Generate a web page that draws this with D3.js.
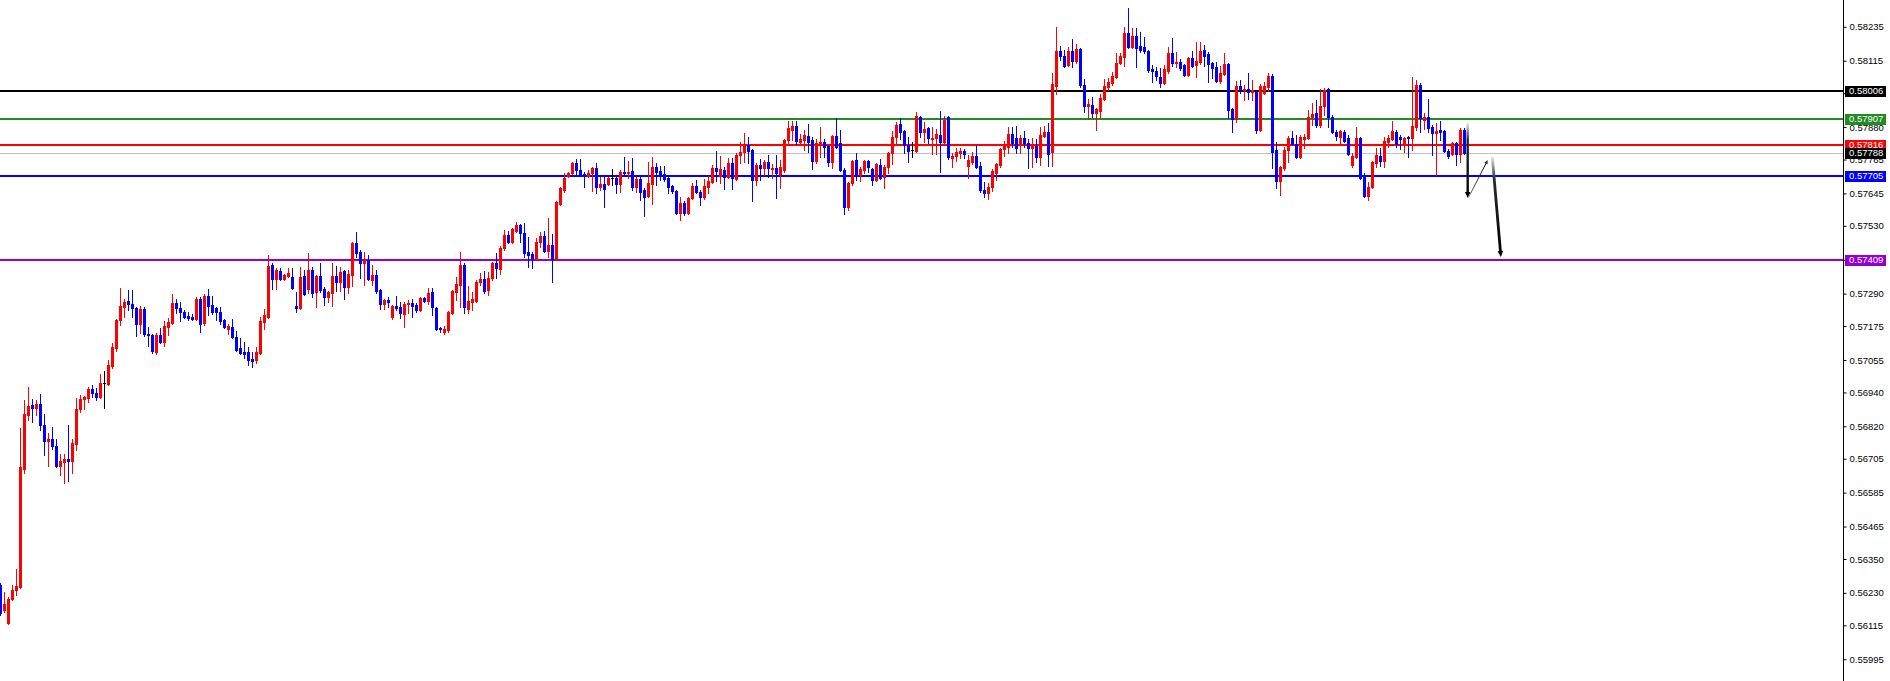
<!DOCTYPE html>
<html>
<head>
<meta charset="utf-8">
<script src="https://cdn.jsdelivr.net/npm/d3@7"></script>
<style>
  html, body { margin: 0; padding: 0; background: #fff; overflow: hidden; }
  svg { display: block; }
</style>
</head>
<body>
<svg id="chart" width="1890" height="681"></svg>
<script>
// candle values, one entry per bar
const opens = [
  0.56258, 0.56169, 0.56123, 0.56208, 0.56240, 0.56251, 0.56669, 0.56860, 0.56896, 0.56885,
  0.56899, 0.56825, 0.56768, 0.56775, 0.56750, 0.56679, 0.56694, 0.56704, 0.56697, 0.56757,
  0.56881, 0.56917, 0.56920, 0.56952, 0.56938, 0.56924, 0.56973, 0.56970, 0.57034, 0.57097,
  0.57197, 0.57242, 0.57264, 0.57253, 0.57239, 0.57182, 0.57236, 0.57147, 0.57143, 0.57083,
  0.57143, 0.57119, 0.57172, 0.57186, 0.57257, 0.57239, 0.57225, 0.57211, 0.57207, 0.57200,
  0.57271, 0.57186, 0.57282, 0.57250, 0.57239, 0.57225, 0.57197, 0.57165, 0.57172, 0.57136,
  0.57097, 0.57083, 0.57083, 0.57058, 0.57055, 0.57080, 0.57190, 0.57207, 0.57391, 0.57342,
  0.57370, 0.57342, 0.57352, 0.57349, 0.57246, 0.57239, 0.57352, 0.57306, 0.57374, 0.57296,
  0.57352, 0.57306, 0.57278, 0.57292, 0.57352, 0.57331, 0.57370, 0.57313, 0.57356, 0.57469,
  0.57437, 0.57399, 0.57409, 0.57338, 0.57356, 0.57303, 0.57253, 0.57267, 0.57207, 0.57246,
  0.57242, 0.57218, 0.57253, 0.57257, 0.57250, 0.57232, 0.57275, 0.57264, 0.57296, 0.57239,
  0.57168, 0.57154, 0.57161, 0.57221, 0.57296, 0.57321, 0.57391, 0.57236, 0.57260, 0.57264,
  0.57331, 0.57342, 0.57303, 0.57345, 0.57399, 0.57377, 0.57452, 0.57498, 0.57472, 0.57512,
  0.57533, 0.57505, 0.57437, 0.57430, 0.57413, 0.57472, 0.57494, 0.57441, 0.57462, 0.57413,
  0.57607, 0.57657, 0.57707, 0.57717, 0.57753, 0.57728, 0.57714, 0.57707, 0.57717, 0.57735,
  0.57668, 0.57678, 0.57678, 0.57700, 0.57700, 0.57678, 0.57721, 0.57717, 0.57724, 0.57668,
  0.57696, 0.57657, 0.57636, 0.57678, 0.57738, 0.57724, 0.57714, 0.57700, 0.57671, 0.57653,
  0.57576, 0.57611, 0.57576, 0.57629, 0.57671, 0.57650, 0.57632, 0.57668, 0.57685, 0.57735,
  0.57707, 0.57728, 0.57703, 0.57753, 0.57696, 0.57781, 0.57791, 0.57816, 0.57799, 0.57692,
  0.57745, 0.57735, 0.57756, 0.57731, 0.57735, 0.57714, 0.57728, 0.57834, 0.57870, 0.57884,
  0.57827, 0.57834, 0.57848, 0.57834, 0.57760, 0.57824, 0.57827, 0.57813, 0.57756, 0.57848,
  0.57824, 0.57728, 0.57597, 0.57682, 0.57763, 0.57710, 0.57728, 0.57760, 0.57731, 0.57692,
  0.57745, 0.57703, 0.57738, 0.57788, 0.57845, 0.57891, 0.57866, 0.57816, 0.57799, 0.57795,
  0.57916, 0.57863, 0.57877, 0.57838, 0.57841, 0.57852, 0.57827, 0.57916, 0.57770, 0.57778,
  0.57788, 0.57795, 0.57742, 0.57756, 0.57778, 0.57742, 0.57657, 0.57646, 0.57668, 0.57717,
  0.57745, 0.57802, 0.57809, 0.57855, 0.57841, 0.57824, 0.57841, 0.57824, 0.57806, 0.57813,
  0.57774, 0.57848, 0.57863, 0.57791, 0.58025, 0.58149, 0.58132, 0.58100, 0.58149, 0.58114,
  0.58156, 0.58029, 0.57954, 0.57958, 0.57930, 0.57937, 0.57979, 0.58022, 0.58036, 0.58057,
  0.58107, 0.58128, 0.58213, 0.58164, 0.58202, 0.58167, 0.58164, 0.58149, 0.58086, 0.58079,
  0.58057, 0.58036, 0.58079, 0.58142, 0.58107, 0.58110, 0.58100, 0.58064, 0.58125, 0.58100,
  0.58110, 0.58153, 0.58139, 0.58107, 0.58093, 0.58043, 0.58068, 0.58103, 0.57944, 0.57909,
  0.58025, 0.58011, 0.58015, 0.58004, 0.58004, 0.57870, 0.58001, 0.58022, 0.58061, 0.57799,
  0.57689, 0.57735, 0.57799, 0.57841, 0.57820, 0.57774, 0.57838, 0.57841, 0.57916, 0.57930,
  0.57887, 0.57954, 0.58015, 0.57916, 0.57863, 0.57845, 0.57863, 0.57841, 0.57745, 0.57774,
  0.57841, 0.57710, 0.57636, 0.57668, 0.57753, 0.57778, 0.57760, 0.57827, 0.57838, 0.57863,
  0.57845, 0.57824, 0.57845, 0.57841, 0.57880, 0.58029, 0.57905, 0.57916, 0.57880, 0.57859,
  0.57870, 0.57866, 0.57795, 0.57784, 0.57824, 0.57784, 0.57870
];

const highs = [
  0.56265, 0.56233, 0.56215, 0.56258, 0.56315, 0.56814, 0.56913, 0.56959, 0.56917, 0.56913,
  0.56934, 0.56864, 0.56796, 0.56818, 0.56775, 0.56722, 0.56722, 0.56825, 0.56775, 0.56920,
  0.56931, 0.56927, 0.56959, 0.56966, 0.56956, 0.57005, 0.57016, 0.57055, 0.57115, 0.57200,
  0.57310, 0.57271, 0.57303, 0.57303, 0.57242, 0.57246, 0.57242, 0.57172, 0.57147, 0.57151,
  0.57168, 0.57193, 0.57204, 0.57289, 0.57271, 0.57260, 0.57232, 0.57225, 0.57218, 0.57278,
  0.57278, 0.57289, 0.57306, 0.57282, 0.57242, 0.57242, 0.57200, 0.57182, 0.57200, 0.57158,
  0.57133, 0.57119, 0.57101, 0.57083, 0.57101, 0.57207, 0.57236, 0.57427, 0.57399, 0.57381,
  0.57381, 0.57360, 0.57381, 0.57381, 0.57296, 0.57384, 0.57374, 0.57434, 0.57384, 0.57356,
  0.57399, 0.57313, 0.57299, 0.57399, 0.57388, 0.57384, 0.57374, 0.57374, 0.57472, 0.57508,
  0.57445, 0.57437, 0.57427, 0.57391, 0.57374, 0.57306, 0.57271, 0.57278, 0.57250, 0.57282,
  0.57260, 0.57260, 0.57267, 0.57271, 0.57257, 0.57278, 0.57278, 0.57310, 0.57310, 0.57242,
  0.57172, 0.57175, 0.57228, 0.57303, 0.57349, 0.57437, 0.57399, 0.57317, 0.57296, 0.57338,
  0.57363, 0.57370, 0.57367, 0.57402, 0.57434, 0.57459, 0.57515, 0.57512, 0.57522, 0.57544,
  0.57537, 0.57540, 0.57491, 0.57437, 0.57487, 0.57508, 0.57512, 0.57558, 0.57501, 0.57618,
  0.57668, 0.57717, 0.57721, 0.57756, 0.57767, 0.57767, 0.57721, 0.57728, 0.57738, 0.57753,
  0.57703, 0.57703, 0.57703, 0.57731, 0.57710, 0.57728, 0.57774, 0.57760, 0.57770, 0.57703,
  0.57710, 0.57664, 0.57756, 0.57774, 0.57753, 0.57742, 0.57742, 0.57703, 0.57675, 0.57657,
  0.57632, 0.57618, 0.57632, 0.57682, 0.57692, 0.57657, 0.57696, 0.57707, 0.57745, 0.57795,
  0.57778, 0.57738, 0.57770, 0.57770, 0.57788, 0.57827, 0.57859, 0.57845, 0.57802, 0.57753,
  0.57767, 0.57763, 0.57781, 0.57749, 0.57781, 0.57763, 0.57838, 0.57901, 0.57901, 0.57901,
  0.57855, 0.57870, 0.57891, 0.57845, 0.57838, 0.57880, 0.57838, 0.57816, 0.57852, 0.57912,
  0.57870, 0.57735, 0.57685, 0.57763, 0.57788, 0.57738, 0.57763, 0.57763, 0.57735, 0.57753,
  0.57767, 0.57745, 0.57791, 0.57866, 0.57898, 0.57912, 0.57870, 0.57845, 0.57827, 0.57933,
  0.57919, 0.57898, 0.57880, 0.57880, 0.57873, 0.57937, 0.57919, 0.57919, 0.57788, 0.57806,
  0.57806, 0.57802, 0.57781, 0.57791, 0.57816, 0.57756, 0.57685, 0.57682, 0.57731, 0.57753,
  0.57806, 0.57831, 0.57880, 0.57880, 0.57884, 0.57852, 0.57866, 0.57838, 0.57841, 0.57838,
  0.57880, 0.57884, 0.57894, 0.58072, 0.58234, 0.58167, 0.58153, 0.58164, 0.58192, 0.58174,
  0.58160, 0.58050, 0.57979, 0.57986, 0.57947, 0.57997, 0.58050, 0.58054, 0.58075, 0.58142,
  0.58142, 0.58234, 0.58302, 0.58231, 0.58231, 0.58216, 0.58199, 0.58153, 0.58100, 0.58093,
  0.58089, 0.58100, 0.58164, 0.58195, 0.58146, 0.58121, 0.58103, 0.58128, 0.58149, 0.58181,
  0.58181, 0.58170, 0.58146, 0.58110, 0.58110, 0.58096, 0.58142, 0.58107, 0.57947, 0.58043,
  0.58047, 0.58029, 0.58072, 0.58047, 0.58008, 0.58032, 0.58040, 0.58072, 0.58068, 0.57827,
  0.57742, 0.57809, 0.57848, 0.57866, 0.57852, 0.57852, 0.57855, 0.57940, 0.57965, 0.57976,
  0.58015, 0.58018, 0.58018, 0.57923, 0.57870, 0.57870, 0.57870, 0.57852, 0.57788, 0.57880,
  0.57845, 0.57717, 0.57685, 0.57760, 0.57806, 0.57806, 0.57845, 0.57852, 0.57901, 0.57870,
  0.57852, 0.57845, 0.57848, 0.58057, 0.58047, 0.58036, 0.57930, 0.57979, 0.57887, 0.57894,
  0.57901, 0.57870, 0.57802, 0.57827, 0.57827, 0.57877, 0.57877
];

const lows = [
  0.56152, 0.56162, 0.56120, 0.56205, 0.56223, 0.56247, 0.56655, 0.56842, 0.56835, 0.56860,
  0.56807, 0.56718, 0.56679, 0.56740, 0.56676, 0.56648, 0.56619, 0.56626, 0.56655, 0.56736,
  0.56871, 0.56881, 0.56906, 0.56924, 0.56913, 0.56920, 0.56885, 0.56966, 0.57027, 0.57087,
  0.57179, 0.57207, 0.57232, 0.57207, 0.57140, 0.57151, 0.57140, 0.57104, 0.57080, 0.57076,
  0.57115, 0.57104, 0.57143, 0.57182, 0.57221, 0.57193, 0.57204, 0.57197, 0.57197, 0.57197,
  0.57154, 0.57179, 0.57214, 0.57218, 0.57197, 0.57182, 0.57168, 0.57147, 0.57133, 0.57087,
  0.57076, 0.57062, 0.57037, 0.57030, 0.57044, 0.57076, 0.57165, 0.57204, 0.57306, 0.57306,
  0.57338, 0.57338, 0.57349, 0.57306, 0.57225, 0.57236, 0.57285, 0.57292, 0.57278, 0.57242,
  0.57296, 0.57250, 0.57260, 0.57246, 0.57299, 0.57299, 0.57271, 0.57292, 0.57317, 0.57420,
  0.57345, 0.57321, 0.57338, 0.57321, 0.57292, 0.57236, 0.57236, 0.57242, 0.57200, 0.57232,
  0.57204, 0.57172, 0.57221, 0.57207, 0.57225, 0.57228, 0.57260, 0.57253, 0.57214, 0.57161,
  0.57154, 0.57147, 0.57154, 0.57218, 0.57267, 0.57242, 0.57221, 0.57221, 0.57232, 0.57260,
  0.57321, 0.57292, 0.57285, 0.57338, 0.57345, 0.57360, 0.57445, 0.57469, 0.57469, 0.57508,
  0.57472, 0.57420, 0.57384, 0.57381, 0.57409, 0.57455, 0.57437, 0.57420, 0.57331, 0.57409,
  0.57604, 0.57650, 0.57703, 0.57714, 0.57710, 0.57710, 0.57668, 0.57703, 0.57653, 0.57646,
  0.57657, 0.57597, 0.57675, 0.57675, 0.57646, 0.57650, 0.57710, 0.57700, 0.57657, 0.57650,
  0.57622, 0.57565, 0.57632, 0.57607, 0.57675, 0.57692, 0.57689, 0.57646, 0.57646, 0.57572,
  0.57551, 0.57569, 0.57572, 0.57625, 0.57646, 0.57604, 0.57625, 0.57646, 0.57682, 0.57689,
  0.57682, 0.57661, 0.57700, 0.57661, 0.57692, 0.57753, 0.57756, 0.57753, 0.57618, 0.57675,
  0.57692, 0.57710, 0.57703, 0.57700, 0.57629, 0.57664, 0.57721, 0.57824, 0.57834, 0.57820,
  0.57824, 0.57799, 0.57791, 0.57731, 0.57753, 0.57774, 0.57774, 0.57742, 0.57735, 0.57806,
  0.57724, 0.57572, 0.57586, 0.57675, 0.57692, 0.57689, 0.57717, 0.57721, 0.57675, 0.57689,
  0.57696, 0.57664, 0.57717, 0.57749, 0.57824, 0.57838, 0.57788, 0.57756, 0.57774, 0.57791,
  0.57845, 0.57827, 0.57824, 0.57784, 0.57784, 0.57721, 0.57824, 0.57767, 0.57738, 0.57760,
  0.57770, 0.57770, 0.57700, 0.57749, 0.57735, 0.57650, 0.57632, 0.57625, 0.57653, 0.57692,
  0.57738, 0.57778, 0.57788, 0.57809, 0.57788, 0.57788, 0.57809, 0.57735, 0.57738, 0.57756,
  0.57745, 0.57845, 0.57742, 0.57742, 0.57997, 0.58118, 0.58093, 0.58096, 0.58093, 0.58107,
  0.58022, 0.57933, 0.57909, 0.57916, 0.57870, 0.57912, 0.57976, 0.58011, 0.58029, 0.58054,
  0.58103, 0.58096, 0.58160, 0.58160, 0.58093, 0.58146, 0.58142, 0.58075, 0.58040, 0.58047,
  0.58022, 0.58032, 0.58072, 0.58096, 0.58093, 0.58082, 0.58061, 0.58061, 0.58093, 0.58057,
  0.58103, 0.58096, 0.58040, 0.58054, 0.58040, 0.58036, 0.58064, 0.57912, 0.57863, 0.57898,
  0.58001, 0.57976, 0.57979, 0.57976, 0.57859, 0.57866, 0.57997, 0.58008, 0.57735, 0.57664,
  0.57639, 0.57728, 0.57756, 0.57816, 0.57770, 0.57770, 0.57806, 0.57838, 0.57887, 0.57880,
  0.57880, 0.57923, 0.57880, 0.57859, 0.57834, 0.57824, 0.57827, 0.57781, 0.57738, 0.57770,
  0.57696, 0.57632, 0.57622, 0.57664, 0.57738, 0.57742, 0.57738, 0.57809, 0.57834, 0.57809,
  0.57802, 0.57791, 0.57774, 0.57799, 0.57870, 0.57863, 0.57873, 0.57863, 0.57781, 0.57710,
  0.57834, 0.57791, 0.57770, 0.57781, 0.57745, 0.57756, 0.57784
];

const closes = [
  0.56159, 0.56191, 0.56208, 0.56240, 0.56254, 0.56676, 0.56864, 0.56892, 0.56885, 0.56899,
  0.56825, 0.56768, 0.56775, 0.56750, 0.56679, 0.56697, 0.56704, 0.56697, 0.56761, 0.56881,
  0.56917, 0.56924, 0.56952, 0.56938, 0.56924, 0.56973, 0.56973, 0.57037, 0.57101, 0.57197,
  0.57246, 0.57260, 0.57253, 0.57239, 0.57182, 0.57236, 0.57147, 0.57143, 0.57087, 0.57143,
  0.57119, 0.57175, 0.57190, 0.57257, 0.57239, 0.57225, 0.57207, 0.57204, 0.57200, 0.57271,
  0.57182, 0.57282, 0.57246, 0.57225, 0.57225, 0.57193, 0.57172, 0.57175, 0.57136, 0.57090,
  0.57080, 0.57076, 0.57055, 0.57051, 0.57083, 0.57193, 0.57214, 0.57388, 0.57342, 0.57374,
  0.57342, 0.57356, 0.57363, 0.57310, 0.57239, 0.57349, 0.57289, 0.57374, 0.57292, 0.57352,
  0.57303, 0.57278, 0.57296, 0.57352, 0.57331, 0.57367, 0.57313, 0.57360, 0.57469, 0.57434,
  0.57399, 0.57409, 0.57342, 0.57356, 0.57299, 0.57253, 0.57267, 0.57260, 0.57246, 0.57239,
  0.57221, 0.57253, 0.57257, 0.57246, 0.57232, 0.57275, 0.57264, 0.57292, 0.57242, 0.57165,
  0.57165, 0.57165, 0.57225, 0.57299, 0.57324, 0.57391, 0.57242, 0.57264, 0.57271, 0.57331,
  0.57342, 0.57299, 0.57345, 0.57399, 0.57381, 0.57452, 0.57498, 0.57472, 0.57519, 0.57533,
  0.57505, 0.57434, 0.57427, 0.57413, 0.57472, 0.57494, 0.57441, 0.57462, 0.57413, 0.57615,
  0.57664, 0.57700, 0.57717, 0.57753, 0.57728, 0.57714, 0.57710, 0.57717, 0.57735, 0.57668,
  0.57678, 0.57661, 0.57700, 0.57700, 0.57678, 0.57721, 0.57717, 0.57721, 0.57668, 0.57696,
  0.57650, 0.57632, 0.57682, 0.57738, 0.57721, 0.57714, 0.57696, 0.57668, 0.57653, 0.57576,
  0.57611, 0.57576, 0.57629, 0.57671, 0.57650, 0.57632, 0.57671, 0.57689, 0.57735, 0.57724,
  0.57731, 0.57703, 0.57753, 0.57700, 0.57781, 0.57791, 0.57816, 0.57795, 0.57692, 0.57745,
  0.57735, 0.57756, 0.57735, 0.57735, 0.57717, 0.57738, 0.57834, 0.57877, 0.57884, 0.57831,
  0.57838, 0.57852, 0.57827, 0.57760, 0.57824, 0.57827, 0.57809, 0.57756, 0.57848, 0.57809,
  0.57728, 0.57597, 0.57682, 0.57760, 0.57710, 0.57731, 0.57760, 0.57738, 0.57692, 0.57749,
  0.57700, 0.57738, 0.57788, 0.57845, 0.57887, 0.57863, 0.57816, 0.57795, 0.57799, 0.57919,
  0.57863, 0.57873, 0.57841, 0.57841, 0.57855, 0.57827, 0.57905, 0.57774, 0.57778, 0.57791,
  0.57795, 0.57784, 0.57763, 0.57778, 0.57738, 0.57657, 0.57646, 0.57668, 0.57724, 0.57749,
  0.57802, 0.57816, 0.57855, 0.57824, 0.57806, 0.57841, 0.57824, 0.57806, 0.57816, 0.57774,
  0.57852, 0.57863, 0.57784, 0.58032, 0.58149, 0.58132, 0.58096, 0.58149, 0.58114, 0.58156,
  0.58029, 0.57954, 0.57961, 0.57930, 0.57944, 0.57983, 0.58025, 0.58040, 0.58061, 0.58107,
  0.58132, 0.58213, 0.58164, 0.58202, 0.58160, 0.58153, 0.58149, 0.58082, 0.58079, 0.58061,
  0.58036, 0.58086, 0.58142, 0.58107, 0.58110, 0.58089, 0.58064, 0.58125, 0.58096, 0.58114,
  0.58149, 0.58132, 0.58103, 0.58089, 0.58043, 0.58072, 0.58103, 0.57940, 0.57909, 0.58025,
  0.58011, 0.58015, 0.58004, 0.58011, 0.57870, 0.58025, 0.58025, 0.58061, 0.57791, 0.57689,
  0.57738, 0.57799, 0.57841, 0.57820, 0.57774, 0.57845, 0.57845, 0.57916, 0.57926, 0.57887,
  0.57954, 0.58011, 0.57916, 0.57863, 0.57848, 0.57866, 0.57831, 0.57784, 0.57778, 0.57841,
  0.57700, 0.57636, 0.57668, 0.57756, 0.57781, 0.57760, 0.57831, 0.57841, 0.57866, 0.57820,
  0.57838, 0.57841, 0.57841, 0.57884, 0.58029, 0.57912, 0.57916, 0.57877, 0.57859, 0.57866,
  0.57863, 0.57795, 0.57778, 0.57824, 0.57784, 0.57870, 0.57788
];

// price axis labels
const priceTicks = [
  0.58235, 0.58115, 0.58000, 0.57880, 0.57765, 0.57645, 0.57530, 0.57410, 0.57290, 0.57175,
  0.57055, 0.56940, 0.56820, 0.56705, 0.56585, 0.56465, 0.56350, 0.56230, 0.56115, 0.55995
];

// horizontal levels drawn on the chart
const levelPrices = [0.58006, 0.57907, 0.57816, 0.57705, 0.57409];
const levelColors = ["#000000", "#228b22", "#ff0000", "#0000ff", "#9400d3"];
const bidPrice = 0.57788;

// hand-drawn arrows: bar index / price of start and end
const arrowFromBar = [366.8, 366.95, 372.95];
const arrowFromPrice = [0.57894, 0.57629, 0.57774];
const arrowToBar = [366.8, 371.8, 375.1];
const arrowToPrice = [0.57629, 0.57763, 0.57420];
const arrowWidths = [2.4, 1, 2.8];

const W = 1890;
const H = 681;
const axisX = 1843;
const font = "'Liberation Sans', Arial, sans-serif";

const svg = d3.select("#chart");

const x = d3.scaleLinear().domain([0, 366]).range([0.5, 1464.5]);
const y = d3.scaleLinear().domain([0.559178, 0.583301]).range([H, 0]);

const bars = opens.map((o, i) => ({
  i,
  o,
  h: highs[i],
  l: lows[i],
  c: closes[i],
}));

function barColor(d) {
  if (d.c > d.o) return "#ff0000";
  if (d.c < d.o) return "#0000ff";
  return "#000000";
}

svg.append("rect").attr("width", W).attr("height", H).attr("fill", "#fff");

// level lines (behind candles)
const lines = svg.append("g").attr("shape-rendering", "crispEdges");

lines
  .append("rect")
  .attr("x", 0)
  .attr("y", Math.round(y(bidPrice)))
  .attr("width", axisX)
  .attr("height", 1)
  .attr("fill", "#c0c0c0");

lines
  .selectAll("rect.level")
  .data(levelPrices)
  .join("rect")
  .attr("class", "level")
  .attr("x", 0)
  .attr("y", (p) => Math.round(y(p)) - 1)
  .attr("width", axisX)
  .attr("height", 2)
  .attr("fill", (p, i) => levelColors[i]);

// candles
const candles = svg.append("g").attr("shape-rendering", "crispEdges");

candles
  .selectAll("rect.wick")
  .data(bars)
  .join("rect")
  .attr("class", "wick")
  .attr("x", (d) => Math.round(x(d.i) - 0.5))
  .attr("y", (d) => Math.round(y(d.h)))
  .attr("width", 1)
  .attr("height", (d) => Math.max(1, Math.round(y(d.l)) - Math.round(y(d.h)) + 1))
  .attr("fill", barColor);

candles
  .selectAll("rect.body")
  .data(bars)
  .join("rect")
  .attr("class", "body")
  .attr("x", (d) => Math.round(x(d.i) - 1.5))
  .attr("y", (d) => Math.round(y(Math.max(d.o, d.c))))
  .attr("width", 3)
  .attr("height", (d) =>
    Math.max(1, Math.round(y(Math.min(d.o, d.c))) - Math.round(y(Math.max(d.o, d.c))) + 1),
  )
  .attr("fill", barColor);

// arrows
const defs = svg.append("defs");
const arrows = svg.append("g");

arrowFromBar.forEach((b, k) => {
  const x1 = x(b);
  const y1 = y(arrowFromPrice[k]);
  const x2 = x(arrowToBar[k]);
  const y2 = y(arrowToPrice[k]);
  const id = `arrowGrad${k}`;

  const grad = defs
    .append("linearGradient")
    .attr("id", id)
    .attr("gradientUnits", "userSpaceOnUse")
    .attr("x1", x1)
    .attr("y1", y1)
    .attr("x2", x2)
    .attr("y2", y2);
  grad.append("stop").attr("offset", "0%").attr("stop-color", k === 1 ? "#b0b0b0" : "#e6e6e6");
  grad.append("stop").attr("offset", "22%").attr("stop-color", k === 1 ? "#505050" : "#2a2a2a");
  grad.append("stop").attr("offset", "100%").attr("stop-color", "#000000");

  const len = Math.hypot(x2 - x1, y2 - y1);
  const ux = (x2 - x1) / len;
  const uy = (y2 - y1) / len;
  const headLen = k === 1 ? 4 : 6;
  const headHalf = k === 1 ? 1.8 : 2.8;
  const bx = x2 - ux * headLen;
  const by = y2 - uy * headLen;

  arrows
    .append("line")
    .attr("x1", x1)
    .attr("y1", y1)
    .attr("x2", bx + ux)
    .attr("y2", by + uy)
    .attr("stroke", `url(#${id})`)
    .attr("stroke-width", arrowWidths[k]);

  arrows
    .append("polygon")
    .attr(
      "points",
      [
        [x2, y2],
        [bx - uy * headHalf, by + ux * headHalf],
        [bx + uy * headHalf, by - ux * headHalf],
      ]
        .map((p) => p.join(","))
        .join(" "),
    )
    .attr("fill", k === 1 ? "#303030" : "#000");
});

// price axis
const axis = svg
  .append("g")
  .attr("transform", `translate(${axisX + 0.5},0)`)
  .call(
    d3
      .axisRight(y)
      .tickValues(priceTicks)
      .tickSize(3)
      .tickPadding(3)
      .tickFormat(d3.format(".5f")),
  );

axis.select(".domain").remove();
axis.selectAll(".tick line").attr("stroke", "#000");
axis
  .selectAll(".tick text")
  .attr("fill", "#000")
  .attr("font-family", font)
  .attr("font-size", 9.5);

svg
  .append("line")
  .attr("x1", axisX + 0.5)
  .attr("x2", axisX + 0.5)
  .attr("y1", 0)
  .attr("y2", H)
  .attr("stroke", "#000")
  .attr("stroke-width", 1);

// price tags on the axis
const tagPrices = levelPrices.concat([bidPrice]);
const tagColors = levelColors.concat(["#000000"]);

const tags = svg
  .append("g")
  .selectAll("g")
  .data(tagPrices)
  .join("g")
  .attr("transform", (p) => `translate(${axisX + 2},${Math.round(y(p))})`);

tags
  .append("rect")
  .attr("x", 0)
  .attr("y", -5.5)
  .attr("width", 41)
  .attr("height", 11)
  .attr("fill", (p, i) => tagColors[i])
  .attr("shape-rendering", "crispEdges");

tags
  .append("text")
  .attr("x", 4)
  .attr("y", 0)
  .attr("dy", "0.34em")
  .attr("fill", "#fff")
  .attr("font-family", font)
  .attr("font-size", 9.5)
  .text((p) => d3.format(".5f")(p));
</script>
</body>
</html>
